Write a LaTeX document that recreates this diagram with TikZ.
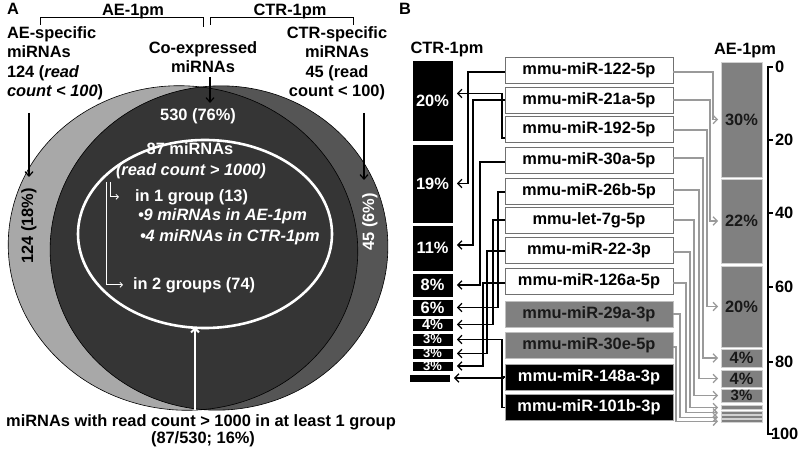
\documentclass[tikz,border=0pt]{standalone}
\usepackage{fontspec}
\setmainfont{Liberation Sans}
\usetikzlibrary{arrows.meta}
\definecolor{aeonly}{HTML}{A8A8A8}
\definecolor{ctronly}{HTML}{555555}
\definecolor{overlapc}{HTML}{353535}
\definecolor{aebar}{HTML}{808080}
\definecolor{rline}{HTML}{9A9A9A}
\definecolor{boxline}{HTML}{707070}
\tikzset{
  every node/.style={font=\fontsize{16.4}{19.5}\selectfont\bfseries, inner sep=0pt, outer sep=0pt},
  wtxt/.style={text=white},
  smallpct/.style={font=\fontsize{13}{13}\selectfont\bfseries},
  mirbox/.style={draw=boxline, line width=0.9pt, fill=white, minimum width=168pt, minimum height=26pt},
  graybox/.style={mirbox, fill=aebar, draw=black!25, text=black!90},
  blackbox/.style={mirbox, fill=black, draw=black!35, text=white},
  ctrbar/.style={fill=black, draw=white, line width=0.8pt, minimum width=41pt},
  aebarst/.style={fill=aebar, draw=black!18, line width=0.8pt, minimum width=41pt},
  larr/.style={draw=black, line width=1.3pt, -{Straight Barb[length=4pt,width=8.5pt]}},
  rarr/.style={draw=rline, line width=1.3pt, -{Straight Barb[length=4pt,width=8.5pt]}},
  karr/.style={draw=black, line width=1.2pt, -{Straight Barb[length=4.5pt,width=8pt]}},
  warr/.style={draw=white, line width=0.8pt, -{Straight Barb[length=2.5pt,width=5pt]}},
  aeell/.style={rotate around={-8:(183,248)}},
  ctrell/.style={rotate around={8:(219,248)}},
}
\begin{document}
\begin{tikzpicture}[x=1pt,y=-1pt]
\useasboundingbox (0,0) rectangle (800,449);
\fill[white] (0,0) rectangle (800,449);

% ================= Panel A =================
\node[anchor=base] (lblA) at (13,15) {A};

% brackets
\draw[line width=1pt] (40,25) -- (40,18) -- (203,18) -- (203,27);
\draw[line width=1pt] (210,25) -- (210,18) -- (353,18) -- (353,25);
\node[anchor=base] (aehead) at (133,16) {AE-1pm};
\node[anchor=base] (ctrhead) at (290,16) {CTR-1pm};

% Venn ellipses
\fill[aeonly, aeell] (183,248) ellipse [x radius=175pt, y radius=162pt];
\fill[ctronly, ctrell] (219,248) ellipse [x radius=169pt, y radius=162pt];
\begin{scope}
  \clip[aeell] (183,248) ellipse [x radius=175pt, y radius=162pt];
  \fill[overlapc, ctrell] (219,248) ellipse [x radius=169pt, y radius=162pt];
\end{scope}
\draw[black, line width=0.6pt, aeell] (183,248) ellipse [x radius=175pt, y radius=162pt];
\draw[black, line width=0.6pt, ctrell] (219,248) ellipse [x radius=169pt, y radius=162pt];
\draw[white, line width=2.6pt] (205,234) ellipse [x radius=127pt, y radius=94pt];

% top texts
\node[anchor=north west, align=left] (aespec) at (7,26.3)
  {AE-specific\\miRNAs\\124 (\textit{read}\\\textit{count < 100})};
\node[anchor=north, align=center] (coexp) at (203,41.3) {Co-expressed\\miRNAs};
\node[anchor=north, align=center] (ctrspec) at (337,26.3)
  {CTR-specific\\miRNAs\\45 (read\\count < 100)};

\coordinate (aeS) at (29,113);
\coordinate (aeT) at (29,177);
\coordinate (ctrS) at (364,113);
\coordinate (ctrT) at (364,180);
\coordinate (coS) at (210,77);
\coordinate (coT) at (210,103);
\draw[karr] (aeS) -- (aeT);
\draw[karr] (ctrS) -- (ctrT);
\draw[karr] (coS) -- (coT);

\node[rotate=90] (aecount) at (29,226) {124 (18\%)};
\node[rotate=90, wtxt] (ctrcount) at (370,222) {45 (6\%)};

\node[anchor=base, wtxt] (co530) at (198,121) {530 (76\%)};
\node[anchor=base, wtxt] (m87) at (190,155) {87 miRNAs};
\node[anchor=base, wtxt] (rc1000) at (191,176) {\textit{(read count > 1000)}};
\node[anchor=base west, wtxt] (g1) at (135,201) {in 1 group (13)};
\node[anchor=base west, wtxt] (g1a) at (138,220) {\textit{•9 miRNAs in AE-1pm}};
\node[anchor=base west, wtxt] (g1b) at (140,241) {\textit{•4 miRNAs in CTR-1pm}};
\node[anchor=base west, wtxt] (g2) at (133,289) {in 2 groups (74)};

\coordinate (w1S) at (110,182);
\coordinate (w2S) at (106,182);
\draw[warr] (w1S) |- ([xshift=-16pt]g1.west);
\draw[warr] (w2S) |- ([xshift=-10pt]g2.west);

\node[anchor=base] (bot1) at (201,426) {miRNAs with read count > 1000 in at least 1 group};
\node[anchor=base] (bot2) at (203,443) {(87/530; 16\%)};
\coordinate (wbS) at (195,410);
\coordinate (wbT) at (195,327);
\draw[white, line width=2pt, -{Straight Barb[length=4pt,width=8pt]}] (wbS) -- (wbT);

% ================= Panel B =================
\node[anchor=base] (lblB) at (405,15) {B};
\node[anchor=base] (ctrtitle) at (447,53.5) {CTR-1pm};
\node[anchor=base] (aetitle) at (745,54.5) {AE-1pm};

% CTR bars
\node[ctrbar, minimum height=81pt] (c20) at (432.5,100.5) {};
\node[ctrbar, minimum height=79pt] (c19) at (432.5,183.5) {};
\node[ctrbar, minimum height=46pt] (c11) at (432.5,248) {};
\node[ctrbar, minimum height=24pt] (c8) at (432.5,285) {};
\node[ctrbar, minimum height=17pt] (c6) at (432.5,307.5) {};
\node[ctrbar, minimum height=13pt] (c4) at (432.5,324.5) {};
\node[ctrbar, minimum height=13pt] (c3a) at (432.5,339.5) {};
\node[ctrbar, minimum height=11pt] (c3b) at (432.5,353.5) {};
\node[ctrbar, minimum height=10pt] (c3c) at (432.5,366) {};
\node[ctrbar, minimum height=8pt] (clast) at (429.5,378) {};
\node[wtxt] at (c20) {20\%};
\node[wtxt] at (c19) {19\%};
\node[wtxt] at (c11) {11\%};
\node[wtxt] at (c8) {8\%};
\node[wtxt] at (c6) {6\%};
\node[wtxt, font=\fontsize{14.5}{14.5}\selectfont\bfseries] at (c4) {4\%};
\node[wtxt, smallpct] at (c3a) {3\%};
\node[wtxt, smallpct] at (c3b) {3\%};
\node[wtxt, smallpct] at (c3c) {3\%};

% AE bars
\node[aebarst, minimum height=115pt] (a30) at (741.5,119.5) {};
\node[aebarst, minimum height=84pt] (a22) at (741.5,221) {};
\node[aebarst, minimum height=81pt] (a20) at (741.5,306.5) {};
\node[aebarst, minimum height=18pt] (a4a) at (741.5,358) {};
\node[aebarst, minimum height=17pt] (a4b) at (741.5,378.5) {};
\node[aebarst, minimum height=13pt] (a3) at (741.5,395.5) {};
\node[aebarst, minimum height=4pt] (t1) at (741.5,407.5) {};
\node[aebarst, minimum height=3.5pt] (t2) at (741.5,412.8) {};
\node[aebarst, minimum height=3pt] (t3) at (741.5,417.3) {};
\node[aebarst, minimum height=3pt] (t4) at (741.5,421.3) {};
\node[text=black!90] at (a30) {30\%};
\node[text=black!90] at (a22) {22\%};
\node[text=black!90] at (a20) {20\%};
\node[text=black!90] at (a4a) {4\%};
\node[text=black!90] at (a4b) {4\%};
\node[text=black!90, font=\fontsize{15}{15}\selectfont\bfseries] at (a3) {3\%};

% axis
\draw[line width=1.3pt] (773,67) -- (768,67) -- (768,434) -- (773,434);
\foreach \yy in {140,213,287,362} \draw[line width=1.3pt] (768,\yy) -- (773,\yy);
\node[anchor=west] (ax0) at (775,67) {0};
\node[anchor=west] (ax20) at (775,140) {20};
\node[anchor=west] (ax40) at (775,213) {40};
\node[anchor=west] (ax60) at (775,287) {60};
\node[anchor=west] (ax80) at (775,362) {80};
\node[anchor=west] (ax100) at (771,434) {100};

% miRNA boxes
\node[mirbox] (b1) at (589,70) {mmu-miR-122-5p};
\node[mirbox] (b2) at (589,100) {mmu-miR-21a-5p};
\node[mirbox] (b3) at (589,129.5) {mmu-miR-192-5p};
\node[mirbox] (b4) at (589,160) {mmu-miR-30a-5p};
\node[mirbox] (b5) at (589,191) {mmu-miR-26b-5p};
\node[mirbox] (b6) at (589,220) {mmu-let-7g-5p};
\node[mirbox] (b7) at (589,250) {mmu-miR-22-3p};
\node[mirbox] (b8) at (589,281.5) {mmu-miR-126a-5p};
\node[graybox] (b9) at (589,314) {mmu-miR-29a-3p};
\node[graybox] (b10) at (589,345.5) {mmu-miR-30e-5p};
\node[blackbox] (b11) at (589,377) {mmu-miR-148a-3p};
\node[blackbox] (b12) at (589,407.5) {mmu-miR-101b-3p};

% left connectors (to CTR-1pm)
\draw[larr] ([yshift=-2pt]b1.west) -- ++(-37,0) |- ([xshift=4pt]c19.east);
\draw[larr] (b2.west) -- ++(-32,0) |- ([xshift=4pt,yshift=3pt]c11.east);
\draw[larr] ([yshift=-8.5pt]b3.west) -- ++(-3,0) |- ([xshift=4pt,yshift=7pt]c20.east);
\draw[larr] ([yshift=-2pt]b4.west) -- ++(-25,0) |- ([xshift=4pt]c8.east);
\draw[larr] ([yshift=-1pt]b5.west) -- ++(-7,0) |- ([xshift=4pt]c6.east);
\draw[larr] (b6.west) -- ++(-12,0) |- ([xshift=4pt]c4.east);
\draw[larr] ([yshift=-1pt]b7.west) -- ++(-18,0) |- ([xshift=4pt]c3b.east);
\draw[larr] ([yshift=-1.5pt]b8.west) -- ++(-22,0) |- ([xshift=4pt]c3c.east);
\draw[larr] (b12.west) -- ++(-3,0) |- ([xshift=4pt]c3a.east);
\draw[larr] (b11.west) -- ++(-2,0) |- ([xshift=4pt]clast.east);

% right connectors (to AE-1pm)
\draw[rarr] ([yshift=-2pt]b1.east) -- ++(40,0) |- ([xshift=-3pt]a30.west);
\draw[rarr] (b2.east) -- ++(37,0) |- ([xshift=-3pt]a22.west);
\draw[rarr] ([yshift=-0.5pt]b3.east) -- ++(34,0) |- ([xshift=-3pt]a20.west);
\draw[rarr] ([yshift=2pt]b4.east) -- ++(30,0) |- ([xshift=-3pt]a4a.west);
\draw[rarr] ([yshift=1pt]b5.east) -- ++(26,0) |- ([xshift=-3pt]a4b.west);
\draw[rarr] (b6.east) -- ++(21,0) |- ([xshift=-3pt]a3.west);
\draw[rarr] ([yshift=-2pt]b7.east) -- ++(17,0) |- ([xshift=-3pt]t1.west);
\draw[rarr] ([yshift=-1.5pt]b8.east) -- ++(13,0) |- ([xshift=-3pt]t2.west);
\draw[rarr] (b9.east) -- ++(7,0) |- ([xshift=-3pt]t3.west);
\draw[rarr] ([yshift=-1.5pt]b10.east) -- ++(3,0) |- ([xshift=-3pt]t4.west);
\end{tikzpicture}
\end{document}
